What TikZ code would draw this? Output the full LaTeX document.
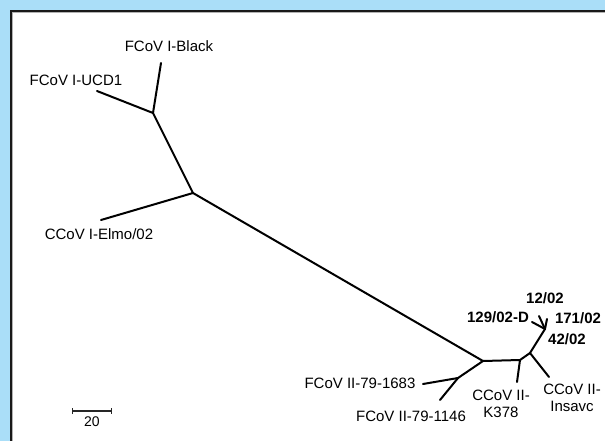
\documentclass[tikz,border=0pt]{standalone}
\usepackage{fontspec}
\setmainfont{Liberation Sans}
\usepackage{xcolor}
\usepackage{tikz}
\usetikzlibrary{arrows.meta}
\definecolor{skyframe}{RGB}{170,222,248}

\begin{document}
\begin{tikzpicture}[x=1pt,y=-1pt,font=\fontsize{15}{17}\selectfont,
      branch/.style={line width=2pt,line cap=round,line join=round},
      taxon/.style={inner sep=0pt,align=center},
      field/.style={taxon,font=\fontsize{15}{17}\selectfont\bfseries},
      scalebar/.style={line width=1.2pt,black!85,{Bar[width=6pt]}-{Bar[width=6pt]}}]
    \useasboundingbox (0,0) rectangle (605,441);
    \fill[skyframe] (0,0) rectangle (605,441);
    \fill[white] (11,11) rectangle (605,441);
    \draw[black!30,line width=1pt] (12.5,441) -- (12.5,12.5) -- (605,12.5);
    \draw[black!90,line width=1.2pt] (11,441) -- (11,11) -- (605,11);
    % internal nodes
    \coordinate (nA) at (153,113);
    \coordinate (nB) at (193,193);
    \coordinate (nC) at (483,361);
    \coordinate (nD) at (458,378);
    \coordinate (nE) at (520,360);
    \coordinate (nF) at (530,353);
    \coordinate (nG) at (545,329);
    % leaf tips
    \coordinate (tBlack) at (161,63);
    \coordinate (tUCD) at (97,91);
    \coordinate (tElmo) at (101,220);
    \coordinate (t1683) at (423,384);
    \coordinate (t1146) at (440,400);
    \coordinate (tK378) at (517,382);
    \coordinate (tInsavc) at (549,377);
    \coordinate (t129) at (532,322);
    \coordinate (t12) at (539,316);
    \coordinate (t171) at (547,319);
    % branches
    \draw[branch] (tBlack) -- (nA) -- (tUCD);
    \draw[branch] (nA) -- (nB) -- (tElmo);
    \draw[branch] (nB) -- (nC);
    \draw[branch] (nC) -- (nD) -- (t1683);
    \draw[branch] (nD) -- (t1146);
    \draw[branch] (nC) -- (nE) -- (tK378);
    \draw[branch] (nE) -- (nF) -- (tInsavc);
    \draw[branch] (nF) -- (nG);
    \foreach \t in {t129,t12,t171} {
      \draw[branch] (nG) -- (\t);
    }
    % labels
    \node[taxon] (lBlack) at (169,46) {FCoV I-Black};
    \node[taxon] (lUCD) at (76,80) {FCoV I-UCD1};
    \node[taxon] (lElmo) at (99,234) {CCoV I-Elmo/02};
    \node[taxon] (l1683) at (360,383) {FCoV II-79-1683};
    \node[taxon] (l1146) at (411,416) {FCoV II-79-1146};
    \node[taxon] (lK378) at (501,404) {CCoV II-\\K378};
    \node[taxon] (lInsavc) at (572,398) {CCoV II-\\Insavc};
    \node[field] (l12) at (545,298) {12/02};
    \node[field] (l129) at (498,317) {129/02-D};
    \node[field] (l171) at (578,318) {171/02};
    \node[field] (l42) at (567,339) {42/02};
    % scale
    \coordinate (sL) at (72,411);
    \coordinate (sR) at (112,411);
    \draw[scalebar] (sL) -- (sR);
    \node[taxon,font=\fontsize{14}{16}\selectfont] (lScale) at (92,422) {20};
  \end{tikzpicture}
\end{document}
